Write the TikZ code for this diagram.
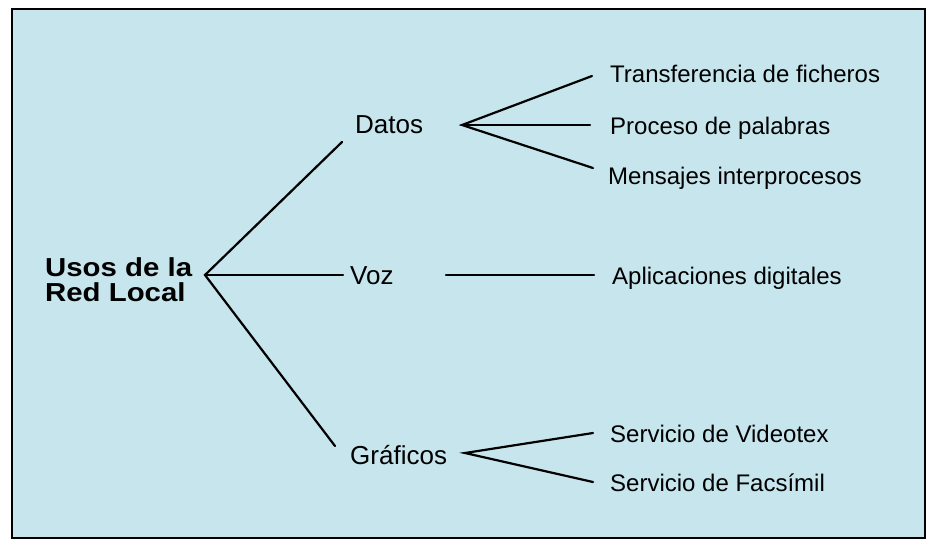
\documentclass[tikz,border=0pt]{standalone}
\usepackage{fontspec}
\setmainfont{Liberation Sans}
\newfontfamily\raizfont{Liberation Sans}[FakeStretch=1.13]
\usepackage{tikz}
\usetikzlibrary{positioning}

\definecolor{fondo}{RGB}{198,229,237}

\begin{document}
\begin{tikzpicture}[x=1pt, y=-1pt,
		rama/.style={line width=2.2pt, line cap=round},
		nivel/.style={inner sep=0pt, anchor=base west, font=\fontsize{26}{28}\selectfont},
		hoja/.style={inner sep=0pt, anchor=base west, font=\fontsize{24}{26}\selectfont}]
			
			% Fondo y marco
			\useasboundingbox (0,0) rectangle (935,539);
			\fill[white] (0,0) rectangle (935,539);
			\draw[fill=fondo, line width=2.6pt] (12,9) rectangle (925,538);
			
			% Raiz
			\node[inner sep=0pt, anchor=north west, align=left,
				font=\raizfont\bfseries\fontsize{26}{25}\selectfont] (raiz) at (45,257)
				{Usos de la\\Red Local};
			
			% Segundo nivel
			\node[nivel] (datos) at (355,133) {Datos};
			\node[nivel] (voz) at (350,284) {Voz};
			\node[nivel] (graficos) at (350,464) {Gráficos};
			
			% Hojas
			\node[hoja] (transf) at (610,82) {Transferencia de ficheros};
			\node[hoja] (proceso) at (610,134) {Proceso de palabras};
			\node[hoja] (mensajes) at (608,184) {Mensajes interprocesos};
			\node[hoja] (aplic) at (612,284) {Aplicaciones digitales};
			\node[hoja] (videotex) at (610,442) {Servicio de Videotex};
			\node[hoja] (facsimil) at (610,491) {Servicio de Facsímil};
			
			% Puntos de las ramas
			\coordinate (raizfork) at (205,275);
			\coordinate (datosin) at (342,142);
			\coordinate (vozin) at (343,275);
			\coordinate (grafin) at (335,446);
			\coordinate (datosfork) at (462,125);
			\coordinate (transfin) at (592,76);
			\coordinate (procesoin) at (590,125);
			\coordinate (mensajesin) at (593,168);
			\coordinate (vozout) at (446,275);
			\coordinate (aplicin) at (594,275);
			\coordinate (grafork) at (465,453);
			\coordinate (videotexin) at (593,433);
			\coordinate (facsimilin) at (593,482);
			
			% Ramas
			\draw[rama] (datosin) -- (raizfork) -- (grafin);
			\draw[rama] (raizfork) -- (vozin);
			\draw[rama] (transfin) -- (datosfork) -- (mensajesin);
			\draw[rama] (datosfork) -- (procesoin);
			\draw[rama] (vozout) -- (aplicin);
			\draw[rama] (videotexin) -- (grafork) -- (facsimilin);
			
		\end{tikzpicture}
\end{document}
